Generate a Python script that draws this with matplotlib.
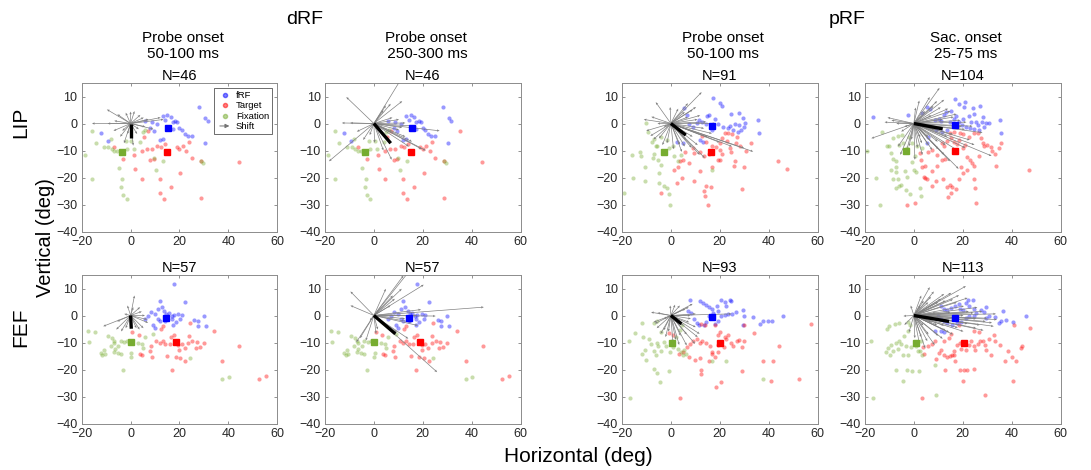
import numpy as np
import matplotlib
matplotlib.use("Agg")
import matplotlib.pyplot as plt
from matplotlib.lines import Line2D
from matplotlib.patches import FancyArrowPatch
from matplotlib.legend_handler import HandlerBase

plt.rcParams['font.family'] = ['Liberation Sans', 'DejaVu Sans']

# ---------------- data ----------------
XTICKS = [-20, 0, 20, 40, 60]
YTICKS = [-40, -30, -20, -10, 0, 10]
COL_TITLES = [("Probe onset", "50-100 ms"), ("Probe onset", " 250-300 ms"),
              ("Probe onset", "50-100 ms"), ("Sac. onset", "25-75 ms")]
GROUP_TITLES = ["dRF", "pRF"]
ROW_LABELS = ["LIP", "FEF"]
N_LABELS = [["N=46", "N=46", "N=91", "N=104"], ["N=57", "N=57", "N=93", "N=113"]]

# LIP dRF (shared by both dRF columns)
LIP_DRF_FRF = [(-12.3, -3.7), (-9.4, -6.3), (5.8, 1.0), (8.7, 0.4), (11.0, 0), (13.2, 2.8), (15.0, 3.2),
               (16.4, 2.4), (14.2, 1.2), (17.4, 0.4), (18.3, 1.0), (19.1, 0.7), (19.9, -1.5), (20.9, -2.4),
               (22.1, -3.9), (23.5, -4.5), (25.0, -4.5), (12.1, -6.1), (13.2, -5.7), (28.2, 6.1), (30.6, 2.0),
               (31.7, 1.0), (30.3, -7.1), (8.1, -1.5), (9.4, -2.7), (17.2, -2.1)]
LIP_DRF_TGT = [(1.6, -11.5), (4.7, -10.2), (6.7, -9.4), (8.7, -9.4), (11.0, -8.2), (12.3, -8.8), (14.1, -7.6),
               (18.8, -8.8), (19.9, -9.4), (21.5, -8.5), (23.9, -7.0), (25.2, -12.7), (28.9, -13.9), (35.2, -2.9),
               (44.3, -14.1), (8.1, -13.4), (9.4, -13.0), (2.0, -16.7), (4.7, -20.4), (12.1, -20.7), (20.4, -18.3),
               (16.4, -23.7), (12.1, -25.9), (13.7, -27.8), (28.9, -27.7), (-3.0, -13.0), (-6.7, -8.8),
               (5.4, -5.1), (7.0, -2.7), (22.8, -10.2)]
LIP_DRF_FIX = [(-18.8, -11.8), (-15.8, -20.4), (-15.8, -2.9), (-14.1, -7.3), (-11.0, -8.8), (-9.1, -8.8),
               (-7.8, -9.4), (-6.7, -10.2), (-4.7, -16.3), (-3.4, -20.7), (-3.8, -23.7), (-3.0, -26.5),
               (-1.6, -28.0), (-2.0, -6.3), (0.3, -6.3), (1.3, -9.4), (4.0, -7.0), (5.1, -3.3), (6.0, -2.4),
               (9.7, -12.7), (10.5, -17.1), (13.4, -13.9), (-8.1, -5.7), (-5.4, -10.0), (-1.6, -9.4),
               (28.9, -13.9), (29.5, -14.6)]
LIP_DRF_CENTERS = [(15.5, -1.5), (15.0, -10.4), (-3.6, -10.4)]  # fRF, Target, Fixation means

# FEF dRF (shared by both dRF columns)
FEF_DRF_FRF = [(17.8, 11.7), (12.1, 5.2), (22.4, 4.9), (8.2, 1.2), (9.9, 0.6), (11.2, 2.5), (12.9, 3.1),
               (13.8, 1.5), (14.7, 0.6), (15.8, 1.0), (16.8, 0), (17.8, 0.2), (19.5, 0.6), (20.4, -1.2),
               (21.1, 0.2), (11.2, -1.2), (12.1, -2.2), (14.2, -2.2), (9.2, -3.7), (9.9, -4.7), (17.4, -3.5),
               (18.4, -2.5), (26.1, -1.5), (27.4, -2.2), (30.0, -0.2), (30.9, -4.0), (27.6, -4.0), (17.1, -1.2),
               (7.2, 0), (5.9, -1.2)]
FEF_DRF_TGT = [(0.7, -6.2), (3.3, -7.4), (8.2, -11.4), (7.9, -13.3), (10.5, -9.6), (12.1, -10.1), (13.2, -9.3),
               (14.2, -10.5), (16.1, -10.5), (16.4, -8.0), (17.8, -7.4), (19.5, -11.1), (21.1, -10.5),
               (19.7, -12.6), (22.1, -12.1), (23.7, -10.1), (23.9, -7.7), (24.3, -2.7), (25.3, -9.3), (27.0, -9.9),
               (26.6, -12.1), (28.3, -11.7), (30.0, -10.1), (34.2, -5.9), (37.5, -17.0), (44.5, -11.4),
               (52.6, -23.7), (55.3, -22.5), (17.1, -20.0), (15.1, -15.1), (18.4, -15.4), (20.4, -15.8),
               (22.4, -16.7), (8.6, -15.4), (3.7, -14.2), (4.6, -14.8), (12.5, -4.9), (13.2, -4.0)]
FEF_DRF_FIX = [(-17.4, -5.6), (-17.1, -9.9), (-14.7, -6.2), (-12.1, -13.8), (-11.6, -14.8), (-10.8, -12.6),
               (-10.5, -14.2), (-9.2, -7.7), (-7.6, -8.4), (-6.8, -9.3), (-6.6, -10.1), (-8.2, -11.4),
               (-6.3, -12.3), (-5.0, -11.4), (-3.9, -9.6), (-2.6, -9.9), (-5.3, -13.8), (-2.9, -20.0),
               (-1.3, -9.3), (0, -15.4), (0.3, -13.8), (2.9, -10.1), (4.6, -10.5), (5.0, -12.1), (5.9, -8.0),
               (9.2, -6.8), (24.3, -15.8), (37.5, -23.7), (40.1, -22.8), (-6.8, -13.6), (-3.9, -14.2)]
FEF_DRF_CENTERS = [(14.5, -1.0), (18.7, -9.9), (0.0, -9.9)]

# LIP pRF, probe onset
LIP_PRF1_FRF = [(5.3, 5.9), (6.6, 3.0), (10.5, 0.2), (11.6, 1.2), (12.9, 0.6), (14.9, 2.7), (15.8, 3.0),
                (17.1, 9.5), (20.1, 7.6), (21.1, 6.3), (24.5, 3.7), (28.0, 3.9), (29.7, 2.2), (30.3, 0.2),
                (28.0, -0.6), (26.3, 0), (24.1, -1.0), (25.4, -2.4), (27.4, -3.0), (28.9, -2.4), (35.5, 1.2),
                (35.9, -3.7), (18.2, 1.5), (19.2, 0), (21.4, -1.2), (23.4, -1.8), (11.8, -6.1), (13.2, -6.7),
                (7.4, -0.2), (8.9, -1.2), (16.8, -2.4), (5.0, -7.3), (2.4, -6.7), (14.2, -0.2), (30.0, -1.2)]
LIP_PRF1_TGT = [(5.7, -10.4), (3.7, -14.0), (5.0, -13.4), (8.9, -9.1), (9.6, -11.0), (11.8, -10.4),
                (13.6, -12.2), (15.5, -11.2), (16.8, -8.5), (18.4, -8.8), (20.1, -9.8), (20.8, -11.2),
                (19.2, -13.7), (20.1, -13.7), (22.8, -6.3), (24.1, -9.1), (24.5, -10.4), (26.7, -7.1),
                (27.1, -4.9), (28.4, -8.3), (30.7, -10.0), (32.6, -7.3), (23.4, -3.7), (25.0, -3.9),
                (22.1, -3.7), (20.8, -5.5), (20.1, -7.3), (26.3, -14.0), (25.8, -15.9), (30.0, -16.1),
                (43.8, -14.0), (47.4, -16.8), (1.1, -17.1), (3.0, -16.1), (4.7, -20.1), (2.4, -22.0),
                (9.6, -21.3), (14.5, -23.2), (16.6, -23.4), (13.6, -25.0), (13.9, -26.8), (15.3, -30.2),
                (29.3, -24.1), (-4.2, -25.9), (7.4, -14.6), (11.8, -17.7), (16.8, -16.1), (12.9, -4.6),
                (14.5, -6.7)]
LIP_PRF1_FIX = [(-16.1, -11.6), (-19.3, -25.6), (-15.4, -20.1), (-12.8, -10.4), (-12.4, -12.2),
                (-10.5, -16.1), (-10.5, -21.3), (-10.1, 0.2), (-9.5, -3.0), (-7.9, -6.7), (-7.1, -5.9),
                (-6.2, -8.3), (-6.8, -11.2), (-7.5, -12.8), (-5.3, -13.4), (-4.2, -15.2), (-4.9, -18.3),
                (-4.9, -22.0), (-2.9, -23.2), (-1.6, -23.8), (-0.9, -26.2), (-0.3, -30.2), (-5.8, -8.3),
                (-3.2, -10.4), (-0.9, -9.1), (0.8, -8.5), (1.3, -12.2), (3.0, -14.0), (4.3, -11.6),
                (16.8, -17.1), (-4.2, -4.9), (-1.6, -6.1)]
LIP_PRF1_CENTERS = [(16.8, -1.0), (16.4, -10.4), (-2.9, -10.4)]

# LIP pRF, saccade onset
LIP_PRF2_FRF = [(-16.6, 2.4), (-2.6, 3.0), (3.5, 3.9), (5.2, 6.1), (6.5, 5.5), (8.5, 1.2), (10.1, 1.5),
                (11.1, 1.0), (12.4, 3.0), (13.1, 4.3), (15.0, 4.6), (17.0, 9.1), (18.3, 7.1), (20.9, 7.9),
                (20.5, 6.1), (22.6, 2.7), (24.2, 5.9), (24.8, 3.7), (27.1, 6.3), (28.1, 2.4), (27.8, 0.6),
                (25.5, 0.6), (26.1, -0.6), (24.8, -2.2), (23.1, -1.5), (21.3, -1.2), (19.6, -0.6), (18.3, 0.6),
                (16.3, 1.5), (14.8, 0.6), (29.4, 0.2), (30.7, 0.2), (28.8, -1.2), (35.3, 1.2), (35.7, -3.7),
                (13.7, -2.4), (11.4, -3.0), (9.2, -2.4), (5.2, -7.3), (5.9, -4.9), (20.0, 1.8), (17.4, 2.7),
                (23.5, 0.6), (26.8, -2.4)]
LIP_PRF2_TGT = [(2.6, -11.0), (3.0, -13.4), (3.5, -16.1), (4.6, -15.6), (4.3, -19.8), (5.2, -20.7),
                (7.5, -23.2), (9.2, -21.3), (11.8, -20.5), (13.5, -23.4), (14.8, -22.9), (15.0, -25.6),
                (14.0, -27.1), (15.7, -23.4), (17.4, -24.1), (18.3, -20.7), (20.0, -18.3), (19.2, -16.1),
                (21.8, -17.3), (24.8, -20.5), (25.2, -23.8), (25.5, -29.5), (-3.0, -30.2), (0.4, -29.5),
                (5.9, -10.4), (7.5, -9.8), (9.5, -11.6), (11.4, -7.3), (12.4, -8.3), (13.5, -6.3), (15.0, -5.5),
                (16.3, -6.7), (17.6, -7.6), (18.3, -6.1), (20.0, -9.1), (20.9, -7.9), (22.6, -5.1), (24.4, -3.4),
                (26.1, -3.4), (27.5, -5.5), (28.1, -7.3), (28.8, -8.5), (30.1, -7.9), (31.4, -8.8),
                (32.0, -10.0), (33.3, -11.2), (33.6, -15.6), (35.7, -7.3), (34.9, -9.1), (19.0, -3.7),
                (20.3, -3.9), (14.8, -3.4), (16.3, -3.0), (21.8, -12.4), (22.9, -13.4), (23.9, -14.6),
                (24.8, -15.6), (47.1, -17.1), (26.8, -12.2), (9.5, -15.9), (7.5, -17.7), (11.4, -13.7),
                (12.7, -13.2), (4.6, -20.1)]
LIP_PRF2_FIX = [(-19.0, -10.0), (-15.3, -20.1), (-13.7, -30.2), (-13.1, -3.0), (-11.1, -8.5), (-10.1, -8.3),
                (-9.5, -11.0), (-8.5, -13.2), (-7.2, -14.0), (-7.2, -16.1), (-9.5, -17.3), (-7.5, -18.0),
                (-8.5, -20.5), (-6.5, -20.7), (-7.5, -23.8), (-5.9, -23.2), (-5.2, -22.9), (-3.3, -24.6),
                (-1.7, -26.2), (-3.5, -17.7), (-3.0, -19.8), (0, -17.1), (0.7, -18.0), (-0.9, -14.4),
                (0.4, -12.2), (2.6, -23.8), (3.0, -26.8), (-8.5, -5.5), (-6.5, -4.6), (-4.8, -4.3),
                (-4.6, -7.3), (-0.7, -7.3), (-2.0, -5.1), (1.3, -8.5), (3.3, -9.1), (-3.0, -9.1), (-5.9, -7.9)]
LIP_PRF2_CENTERS = [(17.0, -0.4), (17.0, -10.0), (-3.3, -10.0)]

# FEF pRF, probe onset
FEF_PRF1_FRF = [(7.8, 5.6), (11.8, 5.2), (13.1, 4.7), (14.4, 4.0), (15.7, 3.1), (16.7, 2.5), (18.7, 3.5),
                (20.7, 5.9), (22.2, 4.9), (22.6, 3.5), (24.3, 5.9), (24.8, 5.2), (26.5, 1.2), (29.5, 2.2),
                (29.8, 0), (29.5, -3.5), (6.9, 1.5), (8.2, 1.0), (9.5, -1.2), (10.5, -2.7), (11.5, -3.5),
                (13.5, -3.7), (14.4, -2.5), (16.5, -1.0), (18.0, -3.1), (19.3, -2.2), (20.7, 0), (22.0, 0.2),
                (23.3, 0.6), (25.2, 0.6), (33.7, -0.6), (36.3, -3.1), (37.6, -1.9), (39.6, -1.9), (41.3, -2.2),
                (45.8, 0), (15.4, 0), (17.4, 1.0), (19.1, 1.5)]
FEF_PRF1_TGT = [(-0.9, -6.4), (0.8, -7.2), (3.4, -14.2), (5.0, -13.6), (6.5, -11.7), (7.8, -10.5), (9.2, -9.3),
                (10.8, -8.6), (11.8, -10.1), (12.8, -9.3), (11.8, -15.8), (14.4, -10.1), (16.1, -11.4),
                (17.0, -14.2), (18.0, -15.4), (19.1, -13.6), (19.3, -10.9), (21.7, -11.7), (22.6, -8.6),
                (23.5, -7.4), (24.8, -10.1), (25.6, -11.4), (26.9, -9.3), (27.8, -8.9), (29.2, -11.7),
                (30.1, -9.6), (29.8, -3.5), (34.0, -6.4), (37.6, -17.0), (41.8, -17.0), (44.2, -11.4),
                (52.3, -23.7), (57.5, -3.1), (12.2, -20.0), (12.5, -21.6), (18.3, -26.5), (20.4, -24.7),
                (29.2, -20.4), (40.9, -24.1), (3.7, -30.6), (7.3, -15.4), (9.9, -16.3), (15.7, -16.7),
                (16.7, -13.6), (19.1, -7.4), (20.0, -6.2), (22.0, -8.0), (12.5, -3.1), (13.9, -3.7), (18.0, -3.7)]
FEF_PRF1_FIX = [(-17.3, -9.6), (-16.6, -30.6), (-14.6, -6.4), (-11.8, -2.7), (-11.4, -8.0), (-10.5, -12.6),
                (-12.0, -14.2), (-10.1, -16.3), (-8.8, -8.6), (-8.1, -10.5), (-7.1, -13.3), (-6.1, -14.6),
                (-5.2, -11.4), (-5.8, -10.1), (-4.2, -13.3), (-4.4, -24.7), (-2.9, -9.9), (-1.8, -11.4),
                (-0.9, -20.7), (-0.5, -13.6), (0.8, -11.7), (3.0, -12.3), (4.3, -13.6), (5.0, -14.8),
                (5.2, -12.6), (6.0, -14.2), (3.7, -5.2), (4.7, -3.5), (-6.8, -2.7), (-5.5, -2.2), (-4.2, -6.2),
                (2.1, -8.0), (37.6, -23.7), (16.7, -17.0), (22.6, -17.0), (-7.1, -19.8), (-5.8, -21.2)]
FEF_PRF1_CENTERS = [(17.0, -0.6), (20.0, -10.1), (0.4, -10.1)]

# FEF pRF, saccade onset
FEF_PRF2_FRF = [(11.1, 3.7), (12.4, 2.5), (13.7, 1.9), (15.0, 2.7), (17.0, 3.5), (18.3, 4.3), (19.0, 2.5),
                (20.3, 2.2), (21.3, 4.7), (22.2, 5.6), (22.6, 3.7), (24.2, 5.9), (24.4, 2.5), (25.5, 1.0),
                (27.5, 1.9), (28.8, 1.2), (29.4, 3.1), (29.7, -1.0), (30.7, 0), (33.1, -0.6), (34.9, -2.7),
                (35.7, -2.2), (36.6, 1.5), (37.5, -1.5), (40.5, -2.5), (45.8, 0), (9.8, -0.2), (11.1, -1.2),
                (12.4, -1.9), (13.7, -2.7), (15.7, -3.7), (17.6, -2.7), (19.2, -2.5), (21.3, -1.0),
                (22.6, -0.2), (24.4, 0), (8.8, -5.6), (11.1, -5.9), (12.4, -6.2)]
FEF_PRF2_TGT = [(3.5, -30.6), (3.9, -11.7), (5.9, -11.4), (7.5, -10.5), (8.5, -9.3), (9.2, -16.0),
                (10.1, -13.8), (11.1, -12.6), (12.2, -14.8), (12.7, -20.0), (13.7, -15.4), (14.8, -15.1),
                (15.7, -14.6), (16.6, -13.3), (17.0, -17.0), (17.6, -11.1), (18.7, -10.1), (19.2, -12.3),
                (20.5, -10.5), (21.3, -12.6), (21.8, -20.0), (22.6, -10.9), (23.5, -9.3), (24.4, -11.4),
                (25.2, -12.6), (26.1, -10.5), (27.1, -9.6), (28.1, -9.3), (29.2, -11.1), (29.7, -12.6),
                (30.7, -8.6), (31.4, -14.6), (33.3, -9.3), (35.3, -11.1), (37.3, -17.0), (38.6, -13.3),
                (40.1, -15.4), (41.8, -17.0), (43.8, -12.1), (44.4, -11.4), (40.9, -3.5), (47.7, -4.7),
                (40.5, -24.1), (29.2, -29.4), (16.3, -14.6), (12.4, -9.3), (14.4, -8.4), (15.0, -6.8),
                (24.8, -5.9), (26.8, -6.2), (32.7, -7.4), (20.3, -24.1), (20.5, -20.0), (24.8, -19.8),
                (18.7, -20.0), (18.3, -3.5), (4.3, -14.2)]
FEF_PRF2_FIX = [(-17.4, -9.6), (-16.6, -30.6), (-11.1, -4.9), (-10.1, -4.0), (-7.8, -3.1), (-5.9, -2.7),
                (-2.6, -2.5), (-1.7, -3.5), (-2.2, -5.9), (-3.9, -7.7), (-5.9, -9.3), (-7.5, -10.1),
                (-9.2, -11.1), (-10.5, -12.1), (-11.4, -13.6), (-9.8, -14.6), (-8.5, -13.3), (-6.5, -12.3),
                (-5.2, -10.5), (-3.3, -11.4), (-1.3, -11.7), (0.7, -11.4), (1.7, -13.0), (2.6, -13.3),
                (3.3, -14.8), (-4.6, -14.8), (-2.6, -14.6), (-7.5, -20.0), (-4.3, -24.4), (-3.0, -20.0),
                (-0.9, -20.4), (2.0, -20.4), (8.8, -18.3), (9.2, -29.6), (0.7, -10.1), (3.0, -9.3)]
FEF_PRF2_CENTERS = [(17.0, -1.0), (20.5, -10.1), (0.7, -10.1)]

# Shift vectors (end points, all starting at the origin) and population mean shift
SHIFT_LIP_1 = [(-15.8, 0), (-9.7, 5.2), (-5.4, 3.4), (-7, -2.7), (-4.3, -4.9), (-2.7, -7.3), (1.1, -8.2),
               (1.6, 4.6), (4, 3.2), (5.4, 2.2), (12.3, 2.2), (9.4, -2.1), (7.4, 1.6), (6, -1.2), (-1.3, -3.9),
               (2.7, -3.9), (-6.7, 1), (-9.4, 0), (-2, 4), (0, 4.4), (-3.4, -2.7), (3.4, -2.1), (13.5, 1.5)]
SHIFT_LIP_2 = [(-18.4, -14.0), (-11.3, 9.8), (-13.1, 0.2), (-9.7, 0.2), (11.5, 17.0), (4.9, 6.7), (6.9, 7.3),
               (11.6, 8.3), (3.9, 4.9), (7.6, 2.2), (10.3, 1.5), (12.9, 0.2), (26.9, -2.7), (19.6, -9.5),
               (21.2, -10), (14.3, -8.5), (7.3, -13.4), (3.9, -10), (0.3, -7.1), (-1.7, -4.3), (10.3, -2.4),
               (12.9, -4.9), (15.6, -6.7), (17.6, -1.0), (11.6, -1.5), (-7, -3), (-4.4, -6.1)]
SHIFT_LIP_3 = [(12.6, 11.6), (-6.2, 7.9), (-11.1, 1.5), (-10.1, -2.7), (-8.4, -4.6), (-7.1, -5.9), (-4.9, -5.5),
               (-1.6, -7.3), (1.1, -9.5), (3.7, -7.9), (5.7, -8.5), (13.9, -12.8), (11.8, -11.6), (33.7, -10.4),
               (30.0, -9.1), (10.3, 6.1), (8.9, 5.1), (5.7, 4.3), (3.0, 5.5), (-0.3, 6.1), (7.0, 2.4),
               (10.9, 1.5), (14.5, 0.6), (18.2, 0), (13.6, -1.8), (16.8, -3.7), (8.9, -4.9), (6.3, -6.1),
               (-2.9, -1.2), (-5.5, 0), (7.0, 7.5), (12.0, 3.0), (15.0, -5.0), (11.0, -8.0), (20.0, -7.0),
               (25.0, -8.5), (4.5, -10.5), (-3.5, -8.0), (-8.0, 2.5), (8.5, -9.0)]
SHIFT_LIP_4 = [(10.5, 13.2), (-17.4, -5.5), (-10.8, 2.2), (-9.2, 1.2), (-5.2, -3.0), (-5.6, -11.6), (-3.3, -11.0),
               (-2.0, -8.5), (0.4, -13.4), (3.5, -11.6), (7.5, -9.8), (12.4, -11.6), (14.8, -14.0),
               (18.3, -16.8), (31.8, -12.0), (24.8, -7.9), (22.9, -6.1), (28.1, -3.4), (20.9, -2.2), (16.3, 2.4),
               (15.0, 4.6), (12.4, 8.8), (9.5, 8.3), (6.5, 9.8), (2.2, 8.5), (0.7, 5.9), (4.6, 4.6), (7.2, 3.0),
               (11.8, 1.5), (19.0, 1.2), (19.6, -1.2), (8.5, -2.4), (5.9, -4.9), (2.6, -5.1), (-3.9, -1.2),
               (-7.2, 0), (3.3, -7.3), (9.8, -6.7), (13.7, -4.9), (8.0, 6.5), (11.0, 6.0), (14.0, 5.5),
               (17.5, 3.5), (21.5, 0.5), (24.0, -1.0), (16.0, -4.0), (13.0, -8.0), (10.0, -9.5), (18.0, -10.0),
               (21.0, -9.0), (6.0, -8.0), (1.5, -9.0), (-1.0, -6.0), (-6.5, -8.5), (-12.0, 0.5)]
SHIFT_FEF_1 = [(-11.2, -4.0), (-5.9, -5.2), (-3.9, -5.9), (1.6, 7.4), (1.1, 3.1), (-1.3, 3.7), (-2.6, 0.6),
               (4.6, 1.5), (3.9, 3.1), (6.8, -1.5), (7.2, -2.7), (5.3, -4.7), (3.7, -5.2), (2.4, -4.7),
               (-2.0, -4.7), (-5.5, -2.2), (5.9, 0)]
SHIFT_FEF_2 = [(-9.6, 8.9), (-9.6, 3.7), (-7.2, -9.9), (-5.7, -8.4), (-3.3, -9.3), (0.9, -6.8), (1.6, -5.2),
               (-1.7, -1.9), (4.9, 9.9), (7.8, 7.4), (11.4, 9.9), (12.1, 14.8), (14.1, 16.0), (20.4, 11.4),
               (19.3, 2.2), (25.3, -0.2), (45.0, 3.1), (17.4, 0), (12.8, -1.2), (15.4, -2.5), (18.0, -3.7),
               (25.9, -21.0), (14.1, -8.6), (9.5, -6.2), (6.2, -4.3), (8.6, 6.2), (6.8, 3.7)]
SHIFT_FEF_3 = [(-8.1, 1.2), (-7.1, -2.5), (-5.8, -4.7), (-4.2, -6.8), (-2.2, -8.0), (0.8, -9.9), (3.4, -10.9),
               (6.5, -11.1), (9.9, -10.5), (11.8, -6.8), (10.2, -4.3), (8.9, 4.3), (7.3, 3.1), (3.7, 3.7),
               (1.7, 4.0), (-0.3, 3.7), (24.8, 0.6), (10.2, 0.6), (8.2, -1.2), (5.0, -3.7), (-2.9, -1.2),
               (-5.5, 1.0), (6.0, 2.5), (7.5, -2.5), (6.5, -7.0), (4.0, -7.5), (2.0, -9.0), (-3.0, -5.5),
               (-6.5, -3.0), (8.0, 0.0), (11.0, -8.0), (-1.0, -6.0)]
SHIFT_FEF_4 = [(-4.3, -0.2), (-1.3, 3.7), (3.0, 7.4), (6.5, 10.5), (8.2, 8.9), (12.4, 8.0), (15.3, 8.4),
               (21.3, 10.9), (17.6, 4.9), (20.5, 3.5), (24.4, 1.0), (32.0, -2.7), (33.6, 0.6), (32.7, -4.0),
               (29.4, -2.2), (25.5, -4.7), (20.3, -5.9), (14.4, -6.2), (11.8, -8.6), (8.5, -10.9), (4.6, -12.1),
               (2.2, -10.1), (0.4, -8.4), (-2.0, -6.2), (-3.9, -3.5), (11.1, 6.2), (5.9, 4.9), (2.6, 3.7),
               (15.0, 1.2), (20.3, 0), (25.5, -1.2), (7.2, -2.5), (12.4, -3.7), (3.9, -3.7), (10.0, 5.0),
               (13.0, 5.5), (16.0, 6.0), (18.5, 7.5), (22.0, 6.5), (26.0, 3.0), (28.0, 1.5), (30.0, -1.0),
               (27.0, -3.5), (22.0, -3.0), (18.0, -4.5), (16.0, -7.0), (13.0, -5.5), (10.0, -7.5), (9.5, -3.5),
               (6.0, -7.0), (5.5, -9.5), (3.0, -8.0), (7.0, 7.0), (4.0, 5.5), (9.0, 1.0), (22.5, 1.5),
               (34.0, -1.5), (28.5, -5.5)]
MEAN_SHIFTS = [[(0.0, -5.2), (6.9, -7.3), (6.1, -4.3), (11.8, -2.0)],
               [(0.3, -4.9), (8.8, -6.8), (4.3, -3.1), (14.4, -2.2)]]

# ------------- assemble panels -------------
DOTS = [[(LIP_DRF_FRF, LIP_DRF_TGT, LIP_DRF_FIX, LIP_DRF_CENTERS),
         (LIP_DRF_FRF, LIP_DRF_TGT, LIP_DRF_FIX, LIP_DRF_CENTERS),
         (LIP_PRF1_FRF, LIP_PRF1_TGT, LIP_PRF1_FIX, LIP_PRF1_CENTERS),
         (LIP_PRF2_FRF, LIP_PRF2_TGT, LIP_PRF2_FIX, LIP_PRF2_CENTERS)],
        [(FEF_DRF_FRF, FEF_DRF_TGT, FEF_DRF_FIX, FEF_DRF_CENTERS),
         (FEF_DRF_FRF, FEF_DRF_TGT, FEF_DRF_FIX, FEF_DRF_CENTERS),
         (FEF_PRF1_FRF, FEF_PRF1_TGT, FEF_PRF1_FIX, FEF_PRF1_CENTERS),
         (FEF_PRF2_FRF, FEF_PRF2_TGT, FEF_PRF2_FIX, FEF_PRF2_CENTERS)]]
SHIFTS = [[SHIFT_LIP_1, SHIFT_LIP_2, SHIFT_LIP_3, SHIFT_LIP_4],
          [SHIFT_FEF_1, SHIFT_FEF_2, SHIFT_FEF_3, SHIFT_FEF_4]]

C_BLUE = (0, 0, 1)
C_RED = (1, 0, 0)
C_GREEN = (0.466, 0.674, 0.188)
C_AX = (0.15, 0.15, 0.15)

W, H = 1091, 470
fig = plt.figure(figsize=(W / 100, H / 100), dpi=100)

LEFTS = [81.7, 325, 622, 865]
AX_W = 195.5
TOPS = [83, 275]
AX_H = 148.5


class ArrowHandler(HandlerBase):
    def create_artists(self, legend, orig_handle, xdescent, ydescent, width, height, fontsize, trans):
        a = FancyArrowPatch((-xdescent, height / 2 - ydescent), (width - xdescent, height / 2 - ydescent),
                            arrowstyle='-|>', mutation_scale=6, color='0.45', lw=0.7, transform=trans)
        return [a]


for r in range(2):
    for c in range(4):
        ax = fig.add_axes([LEFTS[c] / W, 1 - (TOPS[r] + AX_H) / H, AX_W / W, AX_H / H])
        frf, tgt, fix, centers = DOTS[r][c]
        kw = dict(s=9, alpha=0.4, linewidths=0, zorder=2)
        for pts, col in ((frf, C_BLUE), (tgt, C_RED), (fix, C_GREEN)):
            a = np.array(pts)
            ax.scatter(a[:, 0], a[:, 1], color=col, **kw)
        sh = np.array(SHIFTS[r][c])
        ax.quiver(np.zeros(len(sh)), np.zeros(len(sh)), sh[:, 0], sh[:, 1], angles='xy',
                  scale_units='xy', scale=1, color='0.5', width=0.0035, headwidth=3.5,
                  headlength=4, headaxislength=3.5, zorder=3)
        m = MEAN_SHIFTS[r][c]
        ax.plot([0, m[0]], [0, m[1]], color='k', lw=2.4, solid_capstyle='butt', zorder=4)
        for (cx, cy), col in zip(centers, (C_BLUE, C_RED, C_GREEN)):
            ax.plot([cx], [cy], marker='s', ms=4.3, color=col, mec=col, zorder=5, ls='none')
        ax.set_xlim(-20, 60)
        ax.set_ylim(-40, 15)
        ax.set_xticks(XTICKS)
        ax.set_yticks(YTICKS)
        ax.tick_params(direction='in', length=2.5, width=0.5, labelsize=9, colors='0.4',
                       labelcolor=C_AX, top=True, right=True, pad=3)
        for sp in ax.spines.values():
            sp.set_color('0.55')
            sp.set_linewidth(0.7)
        ax.set_title(N_LABELS[r][c], fontsize=10.5, pad=2, color='k')
        if r == 0 and c == 0:
            handles = [Line2D([], [], ls='none', marker='o', ms=3, color=C_BLUE, alpha=0.5),
                       Line2D([], [], ls='none', marker='o', ms=3, color=C_RED, alpha=0.5),
                       Line2D([], [], ls='none', marker='o', ms=3, color=C_GREEN, alpha=0.5),
                       Line2D([], [], color='0.45')]
            leg = ax.legend(handles, ['fRF', 'Target', 'Fixation', 'Shift'], loc='upper right',
                            fontsize=6.8, frameon=True, fancybox=False, framealpha=1,
                            edgecolor='0.2', handlelength=1.6, handletextpad=0.4,
                            borderpad=0.3, labelspacing=0.15, borderaxespad=0.55,
                            handler_map={handles[3]: ArrowHandler()})
            leg.get_frame().set_linewidth(0.5)

# column titles
for c, (l1, l2) in enumerate(COL_TITLES):
    xc = (LEFTS[c] + AX_W / 2 + 3) / W
    fig.text(xc, 1 - 37.5 / H, l1, ha='center', va='center', fontsize=11)
    fig.text(xc, 1 - 53.5 / H, l2, ha='center', va='center', fontsize=11)

fig.text(305 / W, 1 - 20 / H, GROUP_TITLES[0], ha='center', va='center', fontsize=14)
fig.text(847 / W, 1 - 20 / H, GROUP_TITLES[1], ha='center', va='center', fontsize=14)
fig.text(21 / W, 1 - 122 / H, ROW_LABELS[0], ha='center', va='center', rotation=90, fontsize=15)
fig.text(21 / W, 1 - 327 / H, ROW_LABELS[1], ha='center', va='center', rotation=90, fontsize=15)
fig.text(46 / W, 1 - 238 / H, 'Vertical (deg)', ha='center', va='center', rotation=90, fontsize=14.5)
fig.text(578 / W, 1 - 457 / H, 'Horizontal (deg)', ha='center', va='center', fontsize=15)

fig.savefig('out.png', dpi=100)
